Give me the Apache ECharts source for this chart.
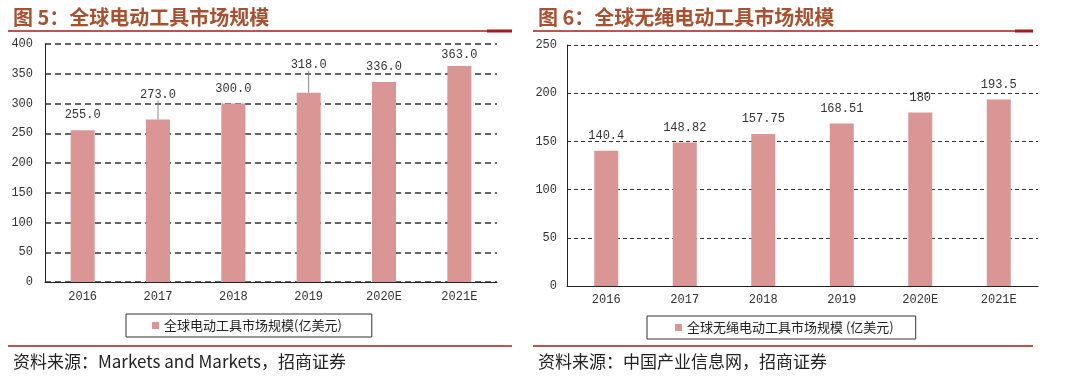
<!DOCTYPE html>
<html>
<head>
<meta charset="utf-8">
<script src="https://cdn.jsdelivr.net/npm/echarts@6/dist/echarts.min.js"></script>
<style>
  html, body { margin: 0; padding: 0; background: #fff; }
  #main { width: 1080px; height: 377px; }
</style>
</head>
<body>
<div id="main"></div>
<script>
// 图5 全球电动工具市场规模
const years = ['2016', '2017', '2018', '2019', '2020E', '2021E'];
const powerToolValues = [255.0, 273.0, 300.0, 318.0, 336.0, 363.0];
const powerToolLabels = ['255.0', '273.0', '300.0', '318.0', '336.0', '363.0'];
// 图6 全球无绳电动工具市场规模
const cordlessValues = [140.4, 148.82, 157.75, 168.51, 180, 193.5];
const cordlessLabels = ['140.4', '148.82', '157.75', '168.51', '180', '193.5'];

const leftName = '全球电动工具市场规模(亿美元)';
const rightName = '全球无绳电动工具市场规模 (亿美元)';

// extra lift of some labels (pulled up with a guide line, like the original)
const leftLift = [0, -10, 0, -13, 0, 4];

const barColor = '#d99694';
const titleColor = '#a8502f';
const ruleColor = '#a51c1c';
const numFont = 'Liberation Mono';
const cjkFont = 'Noto Sans CJK SC';

const chart = echarts.init(document.getElementById('main'));

const leftData = powerToolValues.map((v, i) => ({
  value: v,
  labelLine: { show: leftLift[i] < 0 }
}));

const option = {
  backgroundColor: '#fff',
  animation: false,
  title: [
    {
      text: '图 5：全球电动工具市场规模',
      left: 8, top: 2,
      textStyle: { color: titleColor, fontSize: 20, fontWeight: 'bold', fontFamily: cjkFont }
    },
    {
      text: '图 6：全球无绳电动工具市场规模',
      left: 533, top: 2,
      textStyle: { color: titleColor, fontSize: 20, fontWeight: 'bold', fontFamily: cjkFont }
    },
    {
      text: '资料来源：Markets and Markets，招商证券',
      left: 8, top: 348,
      textStyle: { color: '#222', fontSize: 17, fontWeight: 'normal', fontFamily: cjkFont }
    },
    {
      text: '资料来源：中国产业信息网，招商证券',
      left: 533, top: 348,
      textStyle: { color: '#222', fontSize: 17, fontWeight: 'normal', fontFamily: cjkFont }
    }
  ],
  graphic: [
    { type: 'line', shape: { x1: 8, y1: 31, x2: 512, y2: 31 }, style: { stroke: ruleColor, lineWidth: 1.5 } },
    { type: 'line', shape: { x1: 487, y1: 31, x2: 512, y2: 31 }, style: { stroke: ruleColor, lineWidth: 3 } },
    { type: 'line', shape: { x1: 533, y1: 31, x2: 1033, y2: 31 }, style: { stroke: ruleColor, lineWidth: 1.5 } },
    { type: 'line', shape: { x1: 1015, y1: 31, x2: 1033, y2: 31 }, style: { stroke: ruleColor, lineWidth: 3 } },
    { type: 'line', shape: { x1: 8, y1: 346, x2: 512, y2: 346 }, style: { stroke: ruleColor, lineWidth: 1.5 } },
    { type: 'line', shape: { x1: 533, y1: 346, x2: 1033, y2: 346 }, style: { stroke: ruleColor, lineWidth: 1.5 } }
  ],
  legend: [
    {
      data: [leftName],
      left: 126, top: 314,
      padding: [5, 30, 5, 26],
      borderColor: '#333', borderWidth: 1,
      itemWidth: 7, itemHeight: 7,
      icon: 'rect',
      textStyle: { color: '#222', fontSize: 13, fontFamily: cjkFont }
    },
    {
      data: [rightName],
      left: 647, top: 316,
      padding: [5, 22, 5, 28],
      borderColor: '#333', borderWidth: 1,
      itemWidth: 7, itemHeight: 7,
      icon: 'rect',
      textStyle: { color: '#222', fontSize: 13, fontFamily: cjkFont }
    }
  ],
  grid: [
    { left: 45, right: 583, top: 44, bottom: 95 },
    { left: 567, right: 42, top: 45, bottom: 91 }
  ],
  xAxis: [
    {
      type: 'category', gridIndex: 0, data: years,
      axisLine: { lineStyle: { color: '#222', width: 1 } },
      axisTick: { show: false },
      axisLabel: { color: '#333', fontSize: 12, fontFamily: numFont, margin: 9 }
    },
    {
      type: 'category', gridIndex: 1, data: years,
      axisLine: { lineStyle: { color: '#222', width: 1 } },
      axisTick: { show: false },
      axisLabel: { color: '#333', fontSize: 12, fontFamily: numFont, margin: 8 }
    }
  ],
  yAxis: [
    {
      type: 'value', gridIndex: 0, min: 0, max: 400, interval: 50,
      axisLine: { show: true, lineStyle: { color: '#222', width: 1 } },
      axisTick: { show: false },
      axisLabel: { color: '#333', fontSize: 12, fontFamily: numFont, margin: 12 },
      splitLine: { lineStyle: { color: '#333', width: 1.5, type: [6, 4] } }
    },
    {
      type: 'value', gridIndex: 1, min: 0, max: 250, interval: 50,
      axisLine: { show: true, lineStyle: { color: '#222', width: 1 } },
      axisTick: { show: false },
      axisLabel: { color: '#333', fontSize: 12, fontFamily: numFont, margin: 10 },
      splitLine: { lineStyle: { color: '#333', width: 1, type: [4, 3] } }
    }
  ],
  series: [
    {
      name: leftName,
      type: 'bar',
      xAxisIndex: 0, yAxisIndex: 0,
      data: leftData,
      barWidth: 24,
      itemStyle: { color: barColor },
      label: {
        show: true, position: 'top', distance: 9,
        color: '#333', fontSize: 12, fontFamily: numFont,
        formatter: (p) => powerToolLabels[p.dataIndex]
      },
      labelLayout: (p) => ({ dy: leftLift[p.dataIndex] }),
      labelLine: { lineStyle: { color: '#888', width: 1 } }
    },
    {
      name: rightName,
      type: 'bar',
      xAxisIndex: 1, yAxisIndex: 1,
      data: cordlessValues,
      barWidth: 24,
      itemStyle: { color: barColor },
      label: {
        show: true, position: 'top', distance: 9,
        color: '#333', fontSize: 12, fontFamily: numFont,
        formatter: (p) => cordlessLabels[p.dataIndex]
      }
    }
  ]
};

chart.setOption(option);
</script>
</body>
</html>
